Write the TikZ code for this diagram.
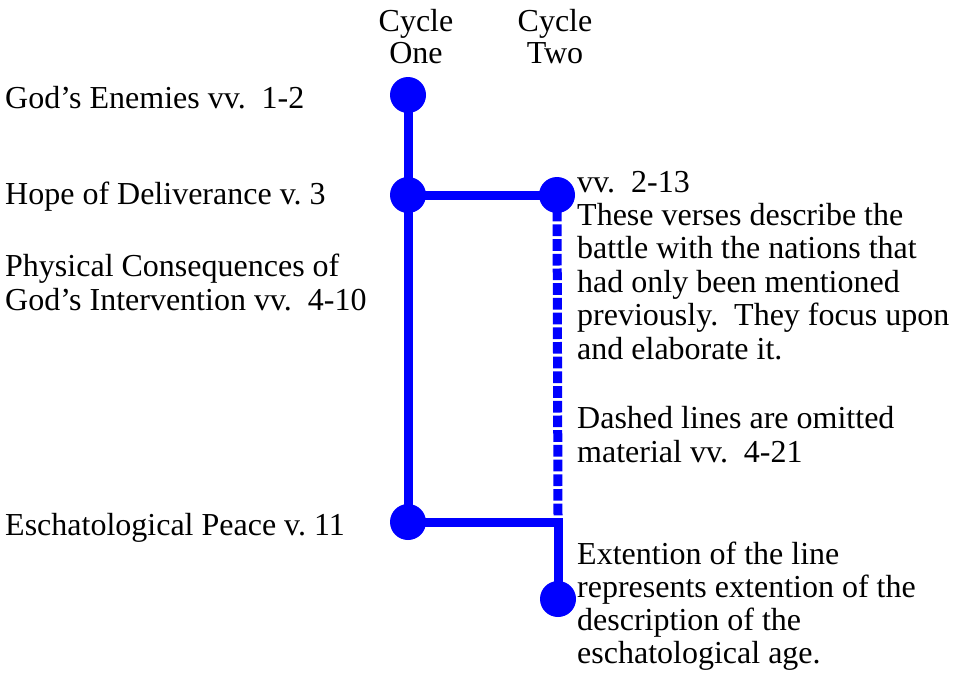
\documentclass[tikz,border=0pt]{standalone}
\usepackage{fontspec}
\setmainfont{Liberation Serif}
\definecolor{lineblue}{RGB}{0,0,255}
\begin{document}
\frenchspacing
\begin{tikzpicture}[x=1pt,y=-1pt,
  lbl/.style={inner sep=0pt,anchor=base west,align=left,font=\fontsize{32}{33.4}\selectfont},
  head/.style={inner sep=0pt,anchor=base,align=center,font=\fontsize{32}{31.6}\selectfont},
  dot/.style={circle,fill=lineblue,minimum size=36pt,inner sep=0pt},
  bar/.style={draw=lineblue,line width=9pt,line join=miter},
  dashbar/.style={bar,dash pattern=on 11.7pt off 3pt}]
\useasboundingbox (0,0) rectangle (957,678);
% headings (anchor is the baseline of the last line)
\node[head] (h1) at (416,63) {Cycle\\One};
\node[head] (h2) at (555,63) {Cycle\\Two};
% left labels
\node[lbl] (l1) at (5,108) {God’s Enemies vv.\ \ 1-2};
\node[lbl] (l2) at (5,204) {Hope of Deliverance v. 3};
\node[lbl] (l3) at (5,310) {Physical Consequences of\\God’s Intervention vv.\ \ 4-10};
\node[lbl] (l4) at (5,535) {Eschatological Peace v. 11};
% right notes
\node[lbl] (r1) at (577,359) {vv.\ \ 2-13\\These verses describe the\\battle with the nations that\\had only been mentioned\\previously.\ \ They focus upon\\and elaborate it.};
\node[lbl] (r2) at (577,462) {Dashed lines are omitted\\material vv.\ \ 4-21};
\node[lbl,font=\fontsize{32}{32.7}\selectfont] (r3) at (577,663) {Extention of the line\\represents extention of the\\description of the\\eschatological age.};
% points
\coordinate (A1) at (408,95);
\coordinate (A2) at (408,195);
\coordinate (A3) at (408,522);
\coordinate (B1) at (557,195);
\coordinate (J) at (558,522);
\coordinate (Jt) at (558,517);
\coordinate (B2) at (558,599);
% lines
\draw[bar] (A1) -- (A3);
\draw[bar] (A2) -- (B1);
\draw[dashbar] (B1) -- (Jt);
\draw[bar] (A3) -- (J) -- (B2);
% dots
\node[dot] (c1) at (A1) {};
\node[dot] (c2) at (A2) {};
\node[dot] (c3) at (A3) {};
\node[dot] (d1) at (B1) {};
\node[dot] (d2) at (B2) {};
\end{tikzpicture}
\end{document}
